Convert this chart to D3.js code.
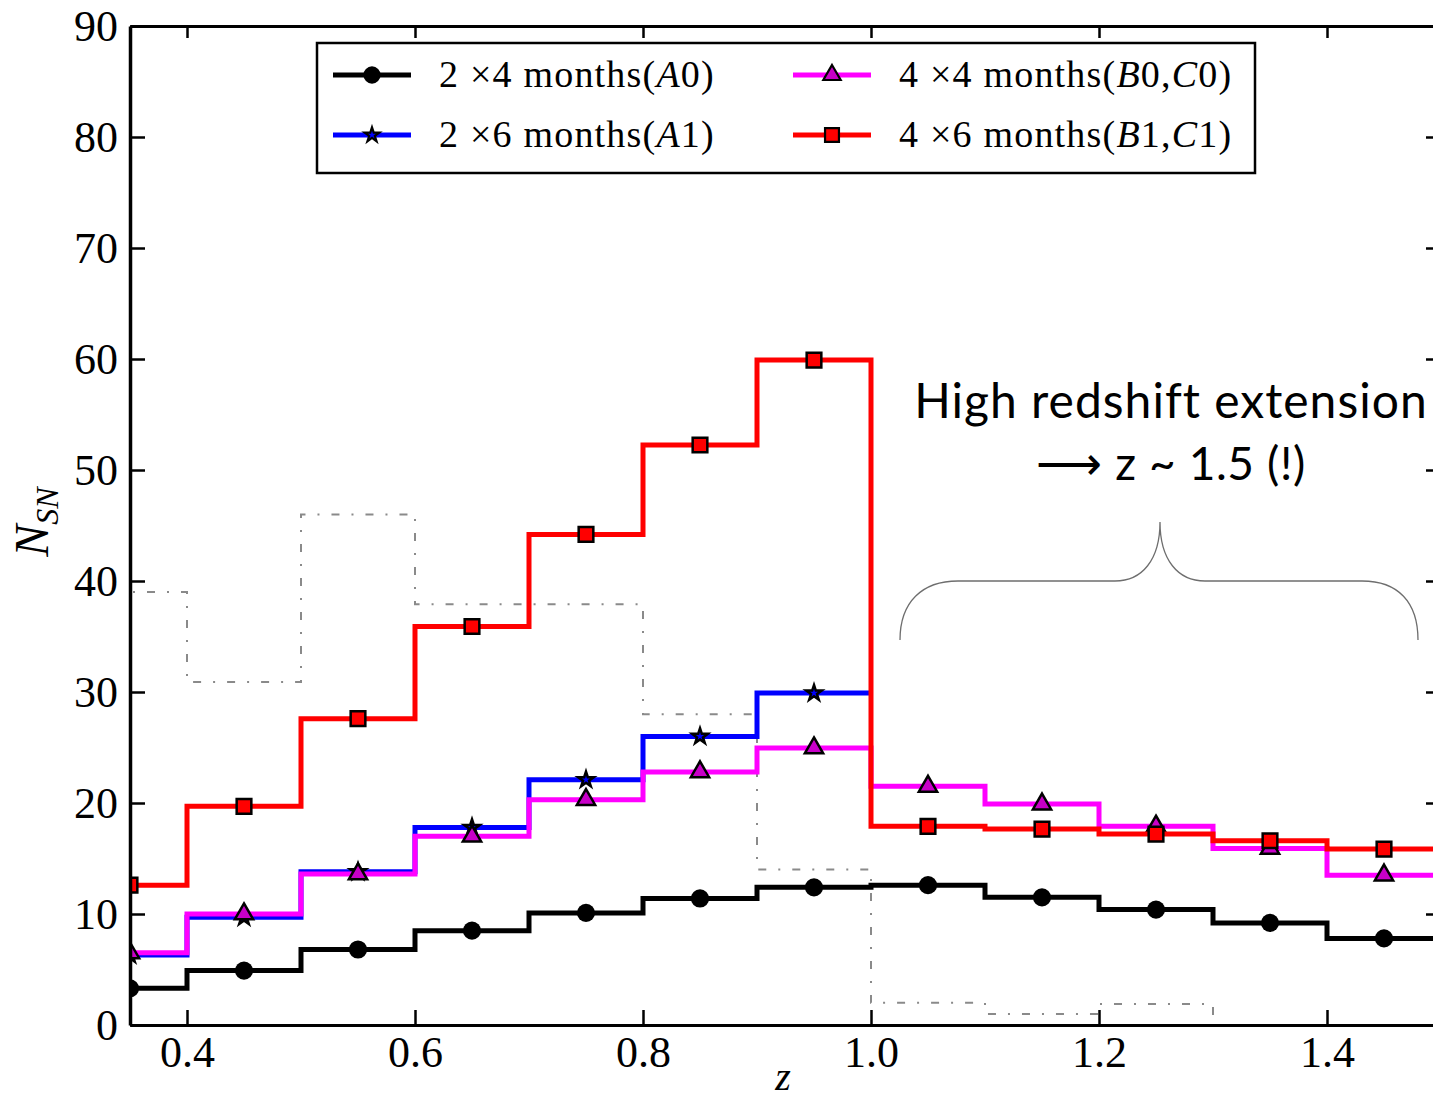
<!DOCTYPE html>
<html><head><meta charset="utf-8">
<script src="https://cdn.jsdelivr.net/npm/d3@7"></script>
<style>body{margin:0;background:#fff;} svg{display:block;}</style>
</head><body><svg id="c" width="1433" height="1100"></svg>
<script>
// ---- data ----
const binLeft   = [0.3, 0.4, 0.5, 0.6, 0.7, 0.8, 0.9, 1.0, 1.1, 1.2, 1.3, 1.4];
const binCenter = [0.35, 0.45, 0.55, 0.65, 0.75, 0.85, 0.95, 1.05, 1.15, 1.25, 1.35, 1.45];
const binWidth = 0.1;
const seriesA0 = [3.3, 4.9, 6.8, 8.5, 10.1, 11.4, 12.4, 12.6, 11.5, 10.4, 9.2, 7.8];
const seriesA1 = [6.3, 9.7, 13.8, 17.8, 22.1, 26.0, 29.9];
const seriesB0 = [6.5, 10.0, 13.6, 17.0, 20.3, 22.8, 24.95, 21.5, 19.9, 17.9, 15.9, 13.5];
const seriesB1 = [12.6, 19.7, 27.6, 35.9, 44.2, 52.25, 59.9, 17.9, 17.65, 17.2, 16.6, 15.85];
const seriesRef = [39.0, 30.9, 46.0, 37.9, 37.9, 28.0, 14.0, 2.0, 1.0, 1.9];
const xTicks = [0.4, 0.6, 0.8, 1.0, 1.2, 1.4];
const yTicks = [0, 10, 20, 30, 40, 50, 60, 70, 80, 90];
const legendLabels = ["2 ×4 months(A0)", "2 ×6 months(A1)", "4 ×4 months(B0,C0)", "4 ×6 months(B1,C1)"];
const annotationLines = ["High redshift extension", "\u27F6 z ~ 1.5 (!)"];

// ---- setup ----
const svg = d3.select("#c");
const x = d3.scaleLinear().domain([0.35, 1.5]).range([130, 1441]);
const y = d3.scaleLinear().domain([0, 90]).range([1025, 26]);
const serif = "'Liberation Serif', 'Times New Roman', serif";

svg.append("defs").append("clipPath").attr("id", "plot")
  .append("rect").attr("x", x(0.35)).attr("y", y(90))
  .attr("width", x(1.5) - x(0.35)).attr("height", y(0) - y(90));

const plot = svg.append("g").attr("clip-path", "url(#plot)");

function stepPoints(vals) {
  const pts = vals.map((v, i) => [binLeft[i], v]);
  pts.push([binLeft[vals.length - 1] + binWidth, vals[vals.length - 1]]);
  return pts;
}
const stepLine = d3.line().x(d => x(d[0])).y(d => y(d[1])).curve(d3.curveStepAfter);

// reference (gray dash-dot)
const refPts = stepPoints(seriesRef);
refPts.push([refPts[refPts.length - 1][0], 0]);
plot.append("path").attr("d", stepLine(refPts))
  .attr("fill", "none").attr("stroke", "#8a8a8a").attr("stroke-width", 2)
  .attr("stroke-dasharray", "8,12,2,12").attr("stroke-dashoffset", -6);

const series = [
  {vals: seriesA0, color: "#000000", sym: d3.symbolCircle, size: 260, fill: "#000000", stroke: "none"},
  {vals: seriesA1, color: "#0000ff", sym: d3.symbolStar, size: 75, fill: "#0000ff", stroke: "#000"},
  {vals: seriesB0, color: "#ff00ff", sym: d3.symbolTriangle, size: 145, fill: "#c800c8", stroke: "#000"},
  {vals: seriesB1, color: "#ff0000", sym: d3.symbolSquare, size: 215, fill: "#ff0000", stroke: "#000"}
];

series.forEach(s => {
  plot.append("path").attr("d", stepLine(stepPoints(s.vals)))
    .attr("fill", "none").attr("stroke", s.color).attr("stroke-width", 5)
    .attr("stroke-linejoin", "miter");
  plot.selectAll(null).data(s.vals).enter().append("path")
    .attr("d", d3.symbol().type(s.sym).size(s.size))
    .attr("transform", (d, i) => `translate(${x(binCenter[i])},${y(d)})`)
    .attr("fill", s.fill).attr("stroke", s.stroke).attr("stroke-width", 2.5);
});

// ---- axes ----
function styleAxis(g, w) {
  g.select(".domain").attr("stroke", "#000").attr("stroke-width", w);
  g.selectAll(".tick line").attr("stroke", "#000").attr("stroke-width", 2.5);
  g.selectAll(".tick text").attr("font-family", serif).attr("font-size", 44).attr("fill", "#000");
}
const gB = svg.append("g").attr("transform", `translate(0,${y(0)})`)
  .call(d3.axisBottom(x).tickValues(xTicks).tickFormat(d3.format(".1f")).tickSize(-15).tickSizeOuter(0).tickPadding(11));
styleAxis(gB, 3);
const gT = svg.append("g").attr("transform", `translate(0,${y(90)})`)
  .call(d3.axisTop(x).tickValues(xTicks).tickFormat("").tickSize(-12).tickSizeOuter(0));
styleAxis(gT, 3);
const gL = svg.append("g").attr("transform", `translate(${x(0.35)},0)`)
  .call(d3.axisLeft(y).tickValues(yTicks).tickSize(-15).tickSizeOuter(0).tickPadding(12));
styleAxis(gL, 3.5);
const gR = svg.append("g").attr("transform", `translate(${x(1.5)},0)`)
  .call(d3.axisRight(y).tickValues(yTicks).tickFormat("").tickSize(-15).tickSizeOuter(0));
styleAxis(gR, 3);

// axis labels
const yl = svg.append("text").attr("transform", "translate(48,522) rotate(-90)")
  .attr("text-anchor", "middle").attr("font-family", serif).attr("font-style", "italic").attr("font-size", 48);
yl.append("tspan").text("N");
yl.append("tspan").attr("font-size", 32).attr("dy", 10).text("SN");
svg.append("text").attr("x", 783).attr("y", 1090).attr("text-anchor", "middle")
  .attr("font-family", serif).attr("font-style", "italic").attr("font-size", 40).text("z");

// ---- legend ----
const lg = svg.append("g");
lg.append("rect").attr("x", 317).attr("y", 43).attr("width", 938).attr("height", 130)
  .attr("fill", "#fff").attr("stroke", "#000").attr("stroke-width", 2.5);
const legPos = [[333, 75], [333, 135], [793, 75], [793, 135]];
series.forEach((s, i) => {
  const [lx, ly] = legPos[i];
  lg.append("line").attr("x1", lx).attr("x2", lx + 78).attr("y1", ly).attr("y2", ly)
    .attr("stroke", s.color).attr("stroke-width", 5);
  lg.append("path").attr("d", d3.symbol().type(s.sym).size(s.size * 0.9))
    .attr("transform", `translate(${lx + 39},${ly})`)
    .attr("fill", s.fill).attr("stroke", s.stroke).attr("stroke-width", 2.2);
  const t = lg.append("text").attr("x", lx + 106).attr("y", ly + 12)
    .attr("font-family", serif).attr("font-size", 38).attr("letter-spacing", 1.2).attr("fill", "#000");
  legendLabels[i].split(/([A-Z])/).forEach(part => {
    if (!part) return;
    const sp = t.append("tspan").text(part);
    if (/^[A-Z]$/.test(part)) sp.attr("font-style", "italic");
  });
});

// ---- annotation ----
const sans = "Lato, 'Noto Sans', sans-serif";
const annSizes = [48, 46];
const annSpacing = [1.0, 0.6];
annotationLines.forEach((l, i) => {
  svg.append("text").attr("x", 1171).attr("y", 418 + i * 62).attr("text-anchor", "middle")
    .attr("font-family", sans).attr("font-size", annSizes[i]).attr("letter-spacing", annSpacing[i])
    .attr("fill", "#000").text(l);
});
svg.append("path")
  .attr("d", "M900,640 C900,602 922,581 958,581 L1115,581 C1142,581 1160,560 1160,522 C1160,560 1178,581 1205,581 L1362,581 C1398,581 1418,602 1418,640")
  .attr("fill", "none").attr("stroke", "#6e6e6e").attr("stroke-width", 1.3);
</script></body></html>
